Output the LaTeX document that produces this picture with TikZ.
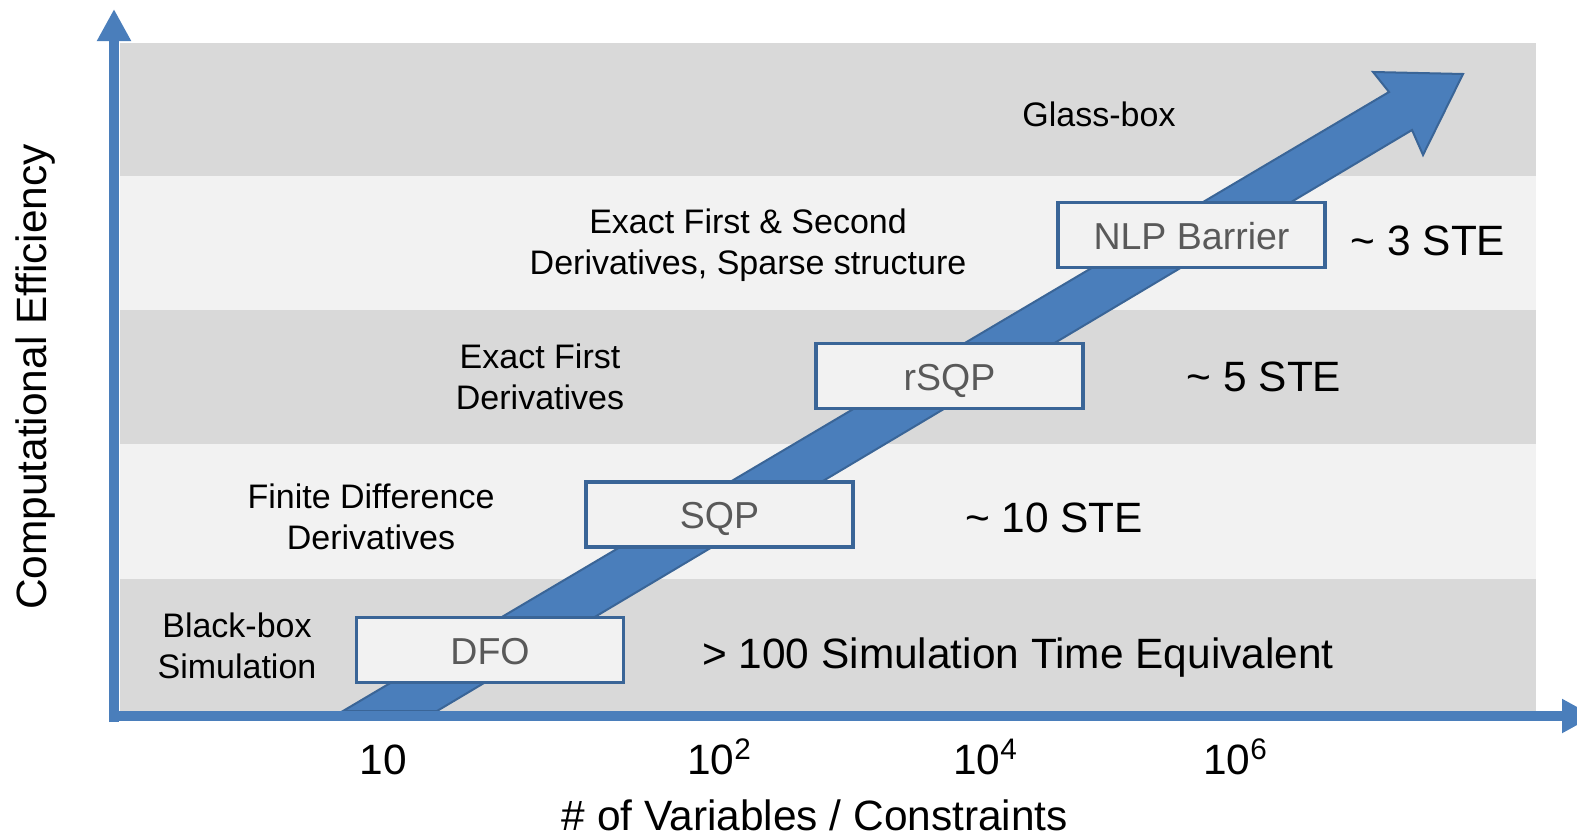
\documentclass[tikz,border=0pt]{standalone}
\usepackage{fontspec}
\setmainfont{Liberation Sans}
\usetikzlibrary{arrows.meta}
\definecolor{bandDark}{HTML}{D9D9D9}
\definecolor{bandLight}{HTML}{F2F2F2}
\definecolor{axisBlue}{HTML}{4A7EBB}
\definecolor{edgeBlue}{HTML}{3A6597}
\definecolor{boxText}{HTML}{595959}
\begin{document}
\begin{tikzpicture}[x=0.01cm,y=-0.01cm,
  bigfont/.style={font=\fontsize{12.06}{14}\selectfont, text height=0.82em, text depth=0pt},
  smallfont/.style={font=\fontsize{9.67}{11.7}\selectfont, align=center},
  stepbox/.style={draw=edgeBlue, line width=0.035cm, fill=bandLight, minimum width=2.67cm, minimum height=0.65cm, inner sep=0pt, text=boxText, font=\fontsize{10.67}{12}\selectfont, text height=0.82em, text depth=0pt},
  axisline/.style={axisBlue, line width=0.1cm, -{Triangle[length=0.32cm,width=0.32cm]}},
  band/.style={fill=#1}]
\useasboundingbox (0,0) rectangle (1577,837);
\clip (0,0) rectangle (1577,837);
% bands
\fill[band=bandDark]  (120,43)  rectangle (1536,176);
\fill[band=bandLight] (120,176) rectangle (1536,310);
\fill[band=bandDark]  (120,310) rectangle (1536,444);
\fill[band=bandLight] (120,444) rectangle (1536,579);
\fill[band=bandDark]  (120,579) rectangle (1536,711);
% big diagonal arrow
\filldraw[fill=axisBlue, draw=edgeBlue, line width=0.02cm, line join=miter]
  (343,711) -- (1389,92) -- (1373,72) -- (1463,74) -- (1423,155) -- (1412,130) -- (437,711) -- cycle;
% axes
\coordinate (ybot) at (114,722);
\coordinate (ytop) at (114,9);
\coordinate (xleft) at (109,716);
\coordinate (xright) at (1594,716);
\draw[axisline] (ybot) -- (ytop);
\draw[axisline] (xleft) -- (xright);
% method boxes
\node[stepbox] (dfo)  at (490,650)     {DFO};
\node[stepbox] (sqp)  at (719.5,514.5) {SQP};
\node[stepbox] (rsqp) at (949.5,376)   {rSQP};
\node[stepbox] (nlp)  at (1191.5,235)  {NLP Barrier};
% band labels
\node[smallfont] (glass) at (1099,114) {Glass-box};
\node[smallfont] (exact2) at (748,245.5) {Exact First \& Second\\Derivatives, Sparse structure};
\node[smallfont] (exact1) at (540,377) {Exact First\\Derivatives};
\node[smallfont] (finite) at (371,517) {Finite Difference\\Derivatives};
\node[smallfont] (black) at (237,645.5) {Black-box\\Simulation};
% cost labels
\node[bigfont] (ste3)  at (1428,241) {\textasciitilde{} 3 STE};
\node[bigfont] (ste5)  at (1264,377) {\textasciitilde{} 5 STE};
\node[bigfont] (ste10) at (1054,518) {\textasciitilde{} 10 STE};
\node[bigfont] (ste100) at (1018,654) {> 100 Simulation Time Equivalent};
% ticks
\node[bigfont] (t1) at (383,760) {10};
\node[bigfont] (t2) at (720,760) {10\textsuperscript{2}};
\node[bigfont] (t4) at (986,760) {10\textsuperscript{4}};
\node[bigfont] (t6) at (1236,760) {10\textsuperscript{6}};
% axis titles
\node[bigfont] (xtitle) at (815,816) {\# of Variables / Constraints};
\node[bigfont, rotate=90] (ytitle) at (32,377) {Computational Efficiency};
\end{tikzpicture}
\end{document}
